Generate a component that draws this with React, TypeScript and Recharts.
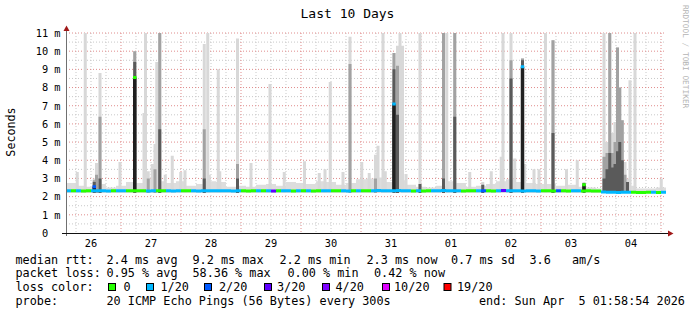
import React from 'react';
import { ComposedChart, Area, Line, XAxis, YAxis, CartesianGrid } from 'recharts';

const FONT = '"DejaVu Sans Mono", monospace';

// time axis: hours counted from 26 Mar 00:00, window 26 Mar 02:00 .. 5 Apr 02:00
const dayLabels = ['26', '27', '28', '29', '30', '31', '01', '02', '03', '04'];
const dayNoons = [12, 36, 60, 84, 108, 132, 156, 180, 204, 228];
const midnights = [24, 48, 72, 96, 120, 144, 168, 192, 216, 240];
const sixHourLines = [
  6, 12, 18, 30, 36, 42, 54, 60, 66, 78, 84, 90, 102, 108, 114, 126, 132, 138,
  150, 156, 162, 174, 180, 186, 198, 204, 210, 222, 228, 234,
];
const rttTicks = [0, 1, 2, 3, 4, 5, 6, 7, 8, 9, 10, 11];
const rttMajorLines = [1, 2, 3, 4, 5, 6, 7, 8, 9, 10, 11];
const rttHalfLines = [0.5, 1.5, 2.5, 3.5, 4.5, 5.5, 6.5, 7.5, 8.5, 9.5, 10.5];

const minRtt = 2.2;

// light smoke haze, one value per 4 h starting 02:00 on the 26th
const hazeTop = [
  2.75, 2.6, 2.55, 2.7, 2.5, 2.6,
  2.8, 2.75, 3.0, 2.85, 2.75, 2.85,
  2.6, 2.7, 2.85, 2.8, 2.55, 2.6,
  2.55, 2.65, 2.7, 2.6, 2.8, 2.75,
  2.7, 2.85, 2.8, 2.65, 2.75, 2.95,
  3.0, 3.05, 2.8, 2.9, 2.65, 2.55,
  2.5, 2.6, 2.85, 2.75, 2.55, 2.6,
  2.7, 2.85, 2.95, 2.8, 2.75, 2.7,
  2.7, 2.6, 2.65, 2.55, 2.5, 2.45,
  3.1, 3.0, 2.6, 2.45, 2.45, 2.5,
];

// median rtt (ms) and lost pings of 20, one value per 2 h starting 02:00 on the 26th
const medianRtt = [
  2.32, 2.33, 2.32, 2.31, 2.32, 2.33, 2.32, 2.32, 2.31, 2.32, 2.32, 2.33,
  2.32, 2.33, 2.32, 2.32, 2.31, 2.32, 2.33, 2.32, 2.32, 2.31, 2.32, 2.32,
  2.32, 2.32, 2.31, 2.32, 2.33, 2.32, 2.32, 2.33, 2.32, 2.31, 2.32, 2.32,
  2.31, 2.32, 2.32, 2.33, 2.32, 2.31, 2.32, 2.32, 2.32, 2.31, 2.32, 2.32,
  2.32, 2.31, 2.32, 2.32, 2.32, 2.33, 2.32, 2.32, 2.31, 2.32, 2.32, 2.32,
  2.32, 2.33, 2.34, 2.33, 2.32, 2.33, 2.34, 2.33, 2.32, 2.31, 2.32, 2.31,
  2.32, 2.32, 2.33, 2.34, 2.33, 2.32, 2.32, 2.31, 2.32, 2.32, 2.33, 2.32,
  2.32, 2.31, 2.33, 2.34, 2.33, 2.32, 2.32, 2.31, 2.32, 2.32, 2.31, 2.32,
  2.32, 2.31, 2.32, 2.32, 2.31, 2.32, 2.32, 2.31, 2.32, 2.31, 2.31, 2.25,
  2.24, 2.24, 2.23, 2.24, 2.24, 2.24, 2.23, 2.23, 2.24, 2.24, 2.23, 2.24,
];
const medianLoss = [
  1, 0, 1, 0, 0, 1, 1, 1, 1, 0, 1, 1,
  0, 0, 0, 0, 1, 1, 0, 0, 1, 1, 1, 0,
  0, 1, 1, 1, 1, 1, 1, 1, 1, 1, 1, 0,
  0, 0, 1, 0, 1, 3, 0, 1, 1, 0, 1, 0,
  1, 0, 0, 1, 1, 0, 0, 1, 1, 0, 1, 0,
  0, 1, 1, 1, 1, 1, 1, 1, 1, 0, 1, 0,
  0, 1, 1, 1, 1, 1, 1, 0, 0, 0, 1, 2,
  0, 0, 1, 3, 1, 1, 1, 1, 1, 1, 1, 0,
  0, 0, 2, 0, 0, 1, 1, 0, 0, 0, 0, 1,
  1, 1, 1, 1, 1, 0, 0, 0, 0, 1, 0, 1,
];

// single-step bursts of smoke: hour, then top of the light / medium / dark shading
const smokeHours = [
  6.5, 9.7, 13.3, 14.2, 15.6, 23.6, 29.5, 33.2, 33.8, 34.9, 36.5, 37.6, 38.3, 39.5,
  41.7, 44.5, 47.9, 49.6, 57.3, 58.7, 59.3, 62.9, 63.5, 70.6, 76.0, 83.6, 89.3,
  97.4, 103.3, 105.6, 107.7, 112.8, 115.6, 120.3, 123.3, 125.8, 126.8, 128.8,
  129.7, 133.2, 134.6, 135.6, 136.6, 138.0, 143.6, 153.0, 154.3, 157.5, 163.5,
  168.7, 172.1, 176.1, 176.8, 180.0, 181.5, 184.6, 185.5, 189.2, 191.2, 193.8,
  196.8, 202.2, 206.5, 209.2, 217.2, 218.4, 219.5, 220.7, 221.6, 222.6, 223.5,
  224.5, 225.6, 226.6, 227.6, 229.6, 240.1,
];
const smokeLight = [
  3.35, 11, 3.0, 3.85, 8.8, 3.9, 10.0, 6.6, 11, 3.4, 3.8, 4.9, 9.4, 11,
  3.2, 4.25, 3.35, 3.45, 10.4, 11, 3.2, 9.0, 3.4, 10.7, 3.85, 8.2, 3.35,
  3.95, 3.3, 3.5, 8.3, 3.35, 10.8, 3.9, 3.3, 4.3, 4.8, 11,
  3.4, 9.9, 10.3, 11, 10.3, 3.25, 11, 11, 11, 11, 3.35,
  2.8, 3.4, 4.2, 11, 11, 4.1, 9.6, 3.8, 3.5, 3.5, 11,
  10.6, 3.5, 4.0, 2.8, 11, 5.0, 11, 5.5, 6.1, 10.2, 8.0,
  6.2, 3.9, 3.0, 8.4, 11, 3.0,
];
const smokeMid = [
  null, null, 2.9, 3.2, 6.4, null, 10.0, null, null, 3.0, null, 3.5, null, 11,
  null, null, null, null, 5.7, null, null, null, null, 3.8, null, null, null,
  null, null, null, null, null, 9.3, null, null, 3.0, null, null,
  null, 9.9, 9.2, null, null, null, null, 11, null, 11, null,
  null, null, null, null, 9.5, null, 9.6, null, null, null, null,
  10.6, null, null, null, 4.2, 4.4, 11, 4.4, 5.0, 10.2, 8.0,
  6.2, 3.2, null, null, null, null,
];
const smokeDark = [
  null, null, 2.8, null, 3.0, null, 9.4, null, null, null, null, null, null, 5.7,
  null, null, null, null, 3.0, null, null, null, null, 3.0, null, null, null,
  null, null, null, null, null, null, null, null, null, null, null,
  null, 9.0, 6.5, null, null, null, 2.7, 3.0, null, 6.4, null,
  2.65, null, null, null, 8.5, null, 9.5, null, null, null, null,
  5.5, null, null, 2.75, 3.0, 3.5, 4.4, 3.6, 3.8, 4.5, 5.0,
  4.0, null, 2.8, null, null, null,
];

// steps where the median itself jumped up
const jumpHours = [13.3, 29.5, 133.2, 184.6, 209.2];
const jumpRtt = [2.55, 8.55, 7.1, 9.15, 2.65];
const jumpLoss = [2, 0, 1, 1, 0];

const lossSteps = [0, 1, 2, 3, 4, 10, 19];
const lossLabels = ['0', '1/20', '2/20', '3/20', '4/20', '10/20', '19/20'];
const lossColors = ['#26ff00', '#00b8ff', '#0059ff', '#5e00ff', '#7e00ff', '#dd00ff', '#ff0000'];

const START_H = 2;
const END_H = 242;
const HAZE_STEP = 4;
const MEDIAN_STEP = 2;
const SMOKE_W = 1.2;
const JUMP_W = 1.4;

type Pt = { t: number; r?: [number, number] | null; v?: number | null };

const column = (t: number, w: number, lo: number, hi: number): Pt[] => [
  { t: t - w / 2, r: [lo, hi] },
  { t: t + w / 2, r: [lo, hi] },
  { t: t + w / 2, r: null },
];

const hazeData: Pt[] = hazeTop
  .map((top, i) => ({ t: START_H + i * HAZE_STEP, r: [minRtt, top] as [number, number] }))
  .concat([{ t: END_H, r: [minRtt, hazeTop[hazeTop.length - 1]] }]);

const smokeLayer = (tops: (number | null)[]) =>
  smokeHours.flatMap((t, i) => (tops[i] == null ? [] : column(t, SMOKE_W, minRtt, tops[i] as number)));

const jumpBase = (t: number) => medianRtt[Math.floor((t - START_H) / MEDIAN_STEP)];
const jumpData = jumpHours.flatMap((t, i) => column(t, JUMP_W, jumpBase(t), jumpRtt[i]));

const medianFor = (loss: number): Pt[] => {
  const flat = medianRtt.flatMap((v, k) =>
    medianLoss[k] !== loss
      ? []
      : [
          { t: START_H + k * MEDIAN_STEP, v },
          { t: START_H + (k + 1) * MEDIAN_STEP, v },
          { t: START_H + (k + 1) * MEDIAN_STEP, v: null },
        ],
  );
  const caps = jumpHours.flatMap((t, i) =>
    jumpLoss[i] !== loss
      ? []
      : [
          { t: t - JUMP_W / 2, v: jumpRtt[i] },
          { t: t + JUMP_W / 2, v: jumpRtt[i] },
          { t: t + JUMP_W / 2, v: null },
        ],
  );
  return [...flat, ...caps];
};

const legendLines: [number, number, string][] = [
  [263.5, 16, 'median rtt:'],
  [263.5, 107, '2.4 ms avg'],
  [263.5, 193, '9.2 ms max'],
  [263.5, 280, '2.2 ms min'],
  [263.5, 367, '2.3 ms now'],
  [263.5, 451.5, '0.7 ms sd'],
  [263.5, 530, '3.6'],
  [263.5, 572.5, 'am/s'],
  [277.3, 16, 'packet loss:'],
  [277.3, 107, '0.95 % avg'],
  [277.3, 193, '58.36 % max'],
  [277.3, 288, '0.00 % min'],
  [277.3, 374.5, '0.42 % now'],
  [291, 16, 'loss color:'],
  [305, 16, 'probe:'],
  [305, 107, '20 ICMP Echo Pings (56 Bytes) every 300s'],
  [305, 479.5, 'end: Sun Apr  5 01:58:54 2026'],
];
const lossBoxX = [108, 146, 204, 264, 322, 382, 443.5];
const lossTextX = [123.5, 160.5, 219, 277, 335.5, 394, 457];

const DayTick = (props: any) => {
  const { x, y, payload } = props;
  const label = dayLabels[dayNoons.indexOf(payload.value)] ?? '';
  return (
    <text x={x} y={y + 13.7} textAnchor="middle" fontFamily={FONT} fontSize={10.3} fill="#000">
      {label}
    </text>
  );
};

const RttTick = (props: any) => {
  const { x, y, payload } = props;
  const label = payload.value === 0 ? '0  ' : `${payload.value} m`;
  return (
    <text
      x={x - 5.5}
      y={y + 3.8}
      textAnchor="end"
      fontFamily={FONT}
      fontSize={10.3}
      fill="#000"
      style={{ whiteSpace: 'pre' }}
    >
      {label}
    </text>
  );
};

export default function App() {
  return (
    <div style={{ position: 'absolute', left: 0, top: 0, width: 697, height: 315, background: '#fff' }}>
      <ComposedChart width={697} height={315} margin={{ top: 33, right: 31, bottom: 62, left: 0 }}>
        <CartesianGrid
          horizontalValues={rttHalfLines}
          verticalValues={sixHourLines}
          stroke="#c8c8c8"
          strokeDasharray="1 2"
        />
        <CartesianGrid
          horizontalValues={rttMajorLines}
          verticalValues={midnights}
          stroke="#e08c8c"
          strokeDasharray="1 2"
        />
        <XAxis
          type="number"
          dataKey="t"
          domain={[START_H, END_H]}
          allowDataOverflow
          ticks={dayNoons}
          interval={0}
          tick={DayTick}
          axisLine={false}
          tickLine={false}
          tickSize={0}
          tickMargin={0}
          height={20}
        />
        <YAxis
          type="number"
          domain={[0, 11]}
          allowDataOverflow
          ticks={rttTicks}
          interval={0}
          tick={RttTick}
          axisLine={false}
          tickLine={false}
          tickSize={0}
          tickMargin={0}
          width={66}
        />
        <Area data={hazeData} dataKey="r" type="stepAfter" stroke="none" fill="#dddddd" fillOpacity={1} isAnimationActive={false} activeDot={false} />
        <Area data={smokeLayer(smokeLight)} dataKey="r" type="linear" stroke="none" fill="#d8d8d8" fillOpacity={1} isAnimationActive={false} activeDot={false} />
        <Area data={smokeLayer(smokeMid)} dataKey="r" type="linear" stroke="none" fill="#a2a2a2" fillOpacity={1} isAnimationActive={false} activeDot={false} />
        <Area data={smokeLayer(smokeDark)} dataKey="r" type="linear" stroke="none" fill="#5a5a5a" fillOpacity={1} isAnimationActive={false} activeDot={false} />
        <Area data={jumpData} dataKey="r" type="linear" stroke="none" fill="#202020" fillOpacity={1} isAnimationActive={false} activeDot={false} />
        {lossSteps.map((loss, i) => (
          <Line
            key={loss}
            data={medianFor(loss)}
            dataKey="v"
            type="linear"
            stroke={lossColors[i]}
            strokeWidth={3}
            strokeLinecap="butt"
            dot={false}
            activeDot={false}
            connectNulls={false}
            isAnimationActive={false}
          />
        ))}
      </ComposedChart>
      <svg
        width={697}
        height={315}
        style={{ position: 'absolute', left: 0, top: 0, pointerEvents: 'none' }}
        fontFamily={FONT}
      >
        <text x={347.5} y={18} fontSize={13} textAnchor="middle" fill="#000">
          Last 10 Days
        </text>
        <text transform="translate(15,132) rotate(-90)" fontSize={11.7} textAnchor="middle" fill="#000">
          Seconds
        </text>
        <text transform="translate(683,5) rotate(90)" fontSize={7.8} fill="#b4b4b4">
          RRDTOOL / TOBI OETIKER
        </text>
        <line x1={66.5} y1={236} x2={66.5} y2={29} stroke="#707070" strokeWidth={1} />
        <line x1={62} y1={233.5} x2={669} y2={233.5} stroke="#111" strokeWidth={1} />
        <polygon points="66.5,25.5 63.5,31 69.5,31" fill="#a01818" />
        <polygon points="673.5,233.5 668,230.5 668,236.5" fill="#a01818" />
        {legendLines.map(([y, x, s], i) => (
          <text key={i} x={x - 0.5} y={y} fontSize={11.8} fill="#000" style={{ whiteSpace: 'pre' }}>
            {s}
          </text>
        ))}
        {lossBoxX.map((x, i) => (
          <g key={i}>
            <rect x={x + 0.5} y={283.5} width={7} height={7} fill={lossColors[i]} stroke="#000" strokeWidth={1} />
            <text x={lossTextX[i]} y={291} fontSize={11.8} fill="#000">
              {lossLabels[i]}
            </text>
          </g>
        ))}
      </svg>
    </div>
  );
}
